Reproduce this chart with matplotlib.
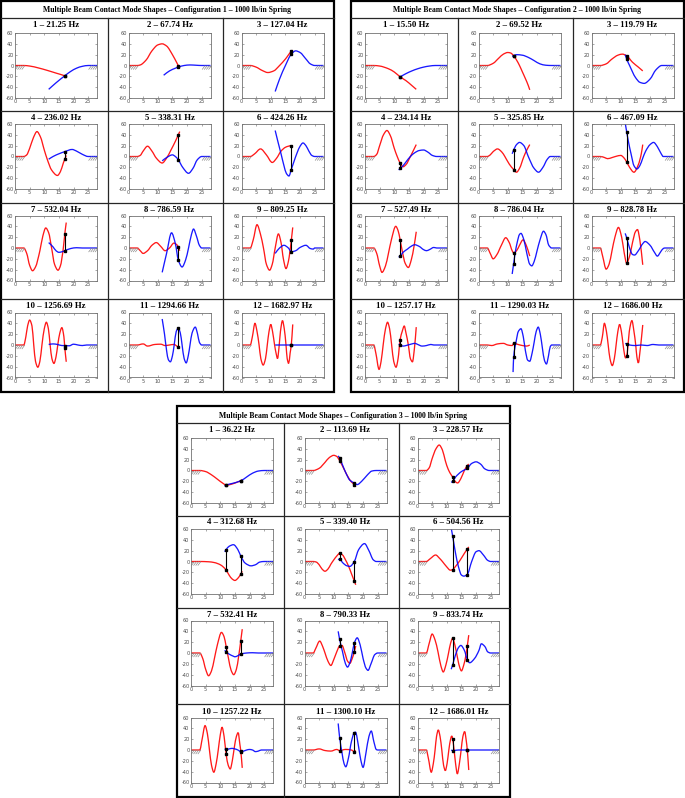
import numpy as np
import matplotlib
matplotlib.use("Agg")
import matplotlib.pyplot as plt
from matplotlib.path import Path
from matplotlib.patches import PathPatch, Rectangle

plt.rcParams['axes.unicode_minus'] = False

# mode frequencies (Hz)
freq_c1 = ["21.25", "67.74", "127.04", "236.02", "338.31", "424.26",
           "532.04", "786.59", "809.25", "1256.69", "1294.66", "1682.97"]
freq_c2 = ["15.50", "69.52", "119.79", "234.14", "325.85", "467.09",
           "527.49", "786.04", "828.78", "1257.17", "1290.03", "1686.00"]
freq_c3 = ["36.22", "113.69", "228.57", "312.68", "339.40", "504.56",
           "532.41", "790.33", "833.74", "1257.22", "1300.10", "1686.01"]

# spring locations along the beams
spring_x_c1 = [17]
spring_x_c2 = [12]
spring_x_c3 = [12, 17]

# clamped supports
support_left = (0, 3)
support_right = (25, 28)

# beam 1 (red) mode shapes, (x, y)
red_c1 = [
    [(0,0),(3,0),(5,-1),(8,-4.5),(11,-9),(14,-14),(17,-19),(17.5,-20)],
    [(0,0),(3,0),(4,1),(6,10),(8,27),(10,38),(11.5,40),(13,36),(15,20),(16.5,5),(17,0),(17.5,-4)],
    [(0,0),(3,0),(5,-3),(7,-9),(9,-13),(11,-10),(13,0),(15,12),(17,26),(17.5,28)],
    [(0,0),(3,0),(4,3),(5,15),(6.3,35),(7.5,46),(8.7,36),(10,12),(11,-5),(12.5,-25),(14.5,-35),(15.5,-28),(16.5,-12),(17,-5),(17.5,2)],
    [(0,0),(3,0),(4,2),(5,10),(6.5,19),(8,10),(9.5,-3),(11.5,-12),(13,-3),(14.5,12),(16,28),(17,40),(17.5,46)],
    [(0,0),(3,0),(4.5,5),(6.5,14),(8.5,3),(10.5,-11),(12,-3),(13.5,10),(15,17),(16,19),(17,20),(17.5,20)],
    [(0,0),(3,0),(4,-10),(5,-32),(6,-42),(7,-35),(8.5,-5),(9.5,22),(10.5,37),(11.5,28),(12.5,0),(13.5,-30),(14.7,-41),(15.5,-33),(16.5,0),(17,26),(17.5,47)],
    [(0,0),(3,0),(4,-5),(5,-10),(6.5,-5),(8,5),(9.5,10),(11,3),(12.5,-5),(14,0),(15.5,9),(16.5,6),(17,2),(17.5,-5)],
    [(0,0),(3,0),(4,15),(5.3,43),(6.5,25),(7.5,0),(8.5,-30),(9.6,-41),(10.5,-30),(11.5,0),(12.6,26),(13.5,10),(14.3,-20),(15.2,-38),(16,-25),(16.5,-8),(17,14),(17.5,38)],
    [(0,0),(3,0),(3.7,15),(4.3,35),(5,46),(5.8,35),(6.4,0),(7,-30),(7.8,-41),(8.5,-30),(9.2,0),(10,30),(10.7,42),(11.4,30),(12,0),(12.6,-25),(13.3,-34),(14,-22),(14.6,0),(15.3,22),(16,32),(16.7,15),(17,-5),(17.5,-31)],
    [(0,0),(3,0),(5,2),(6.5,-2),(9,1),(11,1.5),(12.5,-1),(14,0),(15.5,1),(17,-3),(17.5,-3)],
    [(0,0),(3,0),(3.7,15),(4.6,40),(5.3,25),(6,0),(6.6,-25),(7.4,-37),(8.2,-25),(8.8,0),(9.4,25),(10,38),(10.6,25),(11.3,0),(11.8,-15),(12.3,-25),(12.8,-5),(13.3,25),(14,45),(14.6,30),(15.2,0),(15.6,-25),(16.1,-34),(16.6,-15),(17,0),(17.5,38)],
]
red_c2 = [
    [(0,0),(3,0),(5,-1),(8,-6),(10,-12),(12,-21),(14,-28),(16,-37),(17.5,-44)],
    [(0,0),(3,0),(5,4),(7,14),(8.5,21),(10,24),(11,23),(12,18),(13,10),(14,0),(15,-12),(16,-24),(17,-37),(17.5,-45)],
    [(0,0),(3,0),(5,3),(7,12),(9,19),(10.5,21),(12,18),(14,6),(16,-3),(17.5,-10)],
    [(0,0),(3,0),(4,4),(5,20),(6.3,40),(7.5,48),(8.7,38),(10,15),(11,0),(12,-12),(13,-19),(14,-15),(15.5,0),(17.5,22)],
    [(0,0),(3,0),(4,3),(5,9),(6.5,14),(8,8),(9,0),(10.5,-14),(12,-24),(13,-29),(14,-22),(15.5,0),(16.5,12),(17.5,22)],
    [(0,0),(3,0),(4.5,-2),(5.5,-4),(7,-2),(8.5,0.5),(10,2),(11,-2),(12,-10),(13,-20),(14.5,-29),(16,-15),(17,5),(17.5,22)],
    [(0,0),(3,0),(4,-10),(5,-33),(5.8,-45),(7,-33),(8,-10),(9,15),(10.5,40),(11.3,32),(12,15),(12.7,-5),(13.7,-28),(14.8,-36),(15.8,-22),(16.8,5),(17.5,30)],
    [(0,0),(3,0),(4,-10),(5,-20),(6.3,-12),(7.8,5),(9.3,19),(10.5,10),(11.5,-5),(12,-9),(13,-5),(14,5),(15.2,15),(16.3,5),(17.5,-15)],
    [(0,0),(3,0),(3.8,-15),(5,-39),(6,-30),(7,-5),(8,20),(9.2,38),(10.3,20),(11.2,-10),(12,-28),(13,-15),(14,10),(15,30),(15.7,34),(16.5,15),(17.5,-31)],
    [(0,0),(3,0),(3.7,-15),(4.8,-45),(5.5,-30),(6.2,0),(7,30),(7.7,42),(8.4,30),(9.1,0),(9.8,-30),(10.6,-41),(11.3,-25),(12,10),(12.7,25),(13.4,35),(14,22),(14.8,0),(15.5,-25),(16.2,-31),(16.9,-5),(17.5,33)],
    [(0,0),(3,0),(4.5,-1),(6.5,2),(8.5,3),(10,0),(11.5,-1),(12,3),(13.5,1),(15,-1),(16.5,-2),(17.5,0)],
    [(0,0),(3,0),(3.7,15),(4.4,40),(5.1,25),(5.7,0),(6.3,-25),(7.1,-38),(7.8,-25),(8.4,0),(9,25),(9.6,38),(10.2,25),(10.8,0),(11.2,-15),(11.6,-24),(12,-20),(12.4,-5),(12.9,25),(13.8,45),(14.5,25),(15.1,0),(15.5,-22),(16,-33),(16.6,-10),(17.1,15),(17.5,37)],
]
red_c3 = [
    [(0,0),(3,0),(5,-2),(7,-8),(9,-16),(11,-24),(12,-27),(14,-25),(16,-21),(17,-19),(17.5,-17)],
    [(0,0),(3,0),(5,4),(7,15),(8.5,24),(10,28),(11,26),(12,18),(13,8),(14,-3),(15,-13),(16,-21),(17,-26),(17.5,-30)],
    [(0,0),(3,0),(4,5),(5,22),(6.3,40),(7.4,47),(8.5,38),(9.5,18),(10.5,2),(11.5,-8),(12,-12),(12.8,-20),(13.7,-23),(14.8,-15),(16,0),(17,9),(17.5,12)],
    [(0,0),(3,0),(6,-0.5),(8,-2),(10,-6),(11,-10),(12,-16),(13,-25),(14,-32),(15,-35),(16,-31),(17,-23),(17.5,-18)],
    [(0,0),(3,0),(4,-1),(5,-6),(6,-14),(7,-18),(8,-14),(9,-5),(10,3),(11,10),(12,15),(13,12),(14,3),(15,-8),(16,-22),(17,-36),(17.5,-43)],
    [(0,0),(3,0),(4.3,5),(6.2,12),(7.5,6),(8.5,0),(10,-10),(11.2,-16),(12,-15),(13,-9),(14.5,2),(16,15),(17,23),(17.5,27)],
    [(0,0),(3,0),(4,-10),(5,-30),(6,-42),(7,-33),(8,-10),(9,15),(10.4,38),(11.3,30),(12,12),(12.8,-10),(13.7,-32),(14.6,-40),(15.5,-30),(16.3,-5),(17,23),(17.5,44)],
    [(0,0),(3,0),(3.8,8),(5.2,22),(6.2,12),(7,0),(8,-15),(9,-23),(10,-12),(11,2),(12,13),(12.8,14),(13.8,0),(14.7,-15),(15.5,-19),(16.3,-10),(17,2),(17.5,13)],
    [(0,0),(3,0),(4,18),(5,35),(6,24),(7,2),(8,-24),(8.8,-35),(9.7,-22),(10.6,0),(11.3,18),(12,27),(12.8,14),(13.7,-10),(14.5,-28),(15,-33),(15.8,-22),(16.5,-5),(17,13),(17.5,33)],
    [(0,0),(3,0),(3.8,20),(4.8,45),(5.6,30),(6.3,0),(7,-28),(7.8,-41),(8.6,-25),(9.3,0),(10,28),(10.6,42),(11.3,25),(12,-8),(12.7,-28),(13.4,-35),(14.1,-20),(14.8,5),(15.5,25),(16.1,32),(16.7,10),(17,-2),(17.5,-33)],
    [(0,0),(3,0),(5,2),(7,-1),(9,-2),(11,1),(12,-1),(14,1),(16,0),(17,-3),(17.5,-1)],
    [(0,0),(3,0),(3.7,-15),(4.7,-41),(5.4,-25),(6,0),(6.5,25),(7.1,37),(7.7,25),(8.3,0),(8.9,-28),(9.5,-38),(10.1,-25),(10.7,0),(11.3,20),(11.7,26),(12,20),(12.5,0),(13,-25),(13.6,-44),(14.3,-25),(14.9,0),(15.5,25),(16.1,34),(16.7,15),(17,0),(17.5,-37)],
]

# beam 2 (blue) mode shapes
blue_c1 = [
    [(11.5,-44),(14,-32),(17,-19),(19,-11),(21,-5),(23,-1.5),(25,0),(28,0)],
    [(12,-18),(14,-10),(16,-5),(17,-3),(19,0),(21,1),(23,0.5),(25,0),(28,0)],
    [(11.5,-48),(13,-25),(15,0),(17,21),(18.5,27),(20,24),(22,12),(23.5,3),(25,0),(28,0)],
    [(11.5,-5),(13,0),(15,5),(17,9),(19.5,13),(21,10),(23,4),(25,0),(28,0)],
    [(11.5,-8),(13,-2),(15,3),(16,0),(17,-6),(18.5,-20),(20.5,-31),(22,-22),(23.5,-6),(25,0),(28,0)],
    [(11.5,48),(12.5,26),(13.5,5),(14.5,-17),(15.3,-31),(16.2,-36),(17,-24),(18,-8),(19,7),(20,19),(21,25),(22,20),(23,10),(24,2),(25,0),(28,0)],
    [(11.5,10),(13,2),(14,-5),(15,-8),(16,-7),(17,-5),(19,-1),(21,0.5),(23,0),(25,0),(28,0)],
    [(11.5,-45),(13,-10),(14.7,28),(16,8),(17,-22),(18.3,-35),(19.5,-22),(20.5,0),(21.5,25),(22.2,35),(23.2,22),(24.2,5),(25,0),(28,0)],
    [(11.5,-10),(13,0),(14.5,5),(16,0),(17,-7),(18.5,-5),(20,1),(22,5),(23.5,-1),(24.5,-2),(25,0),(28,0)],
    [(11.5,1),(13,2),(14.5,1),(16,-1),(17,-1),(18.5,-1.5),(20,1.5),(21.5,0),(23,-1),(24.5,0),(28,0)],
    [(11.5,48),(12.3,20),(13,-10),(13.6,-27),(14.3,-31),(15,-20),(15.6,0),(16.3,25),(17,31),(17.7,22),(18.3,0),(19,-25),(19.7,-33),(20.4,-20),(21,0),(21.7,22),(22.8,33),(23.6,20),(24.2,5),(25,0),(28,0)],
    [(11.5,0),(17,0),(28,0)],
]
blue_c2 = [
    [(12,-21),(14,-15),(16,-10),(18,-6),(20,-3),(22,-1),(24,0),(28,0)],
    [(11.5,17),(12,18),(13,20),(15,19),(17,15),(19,9),(21,3),(23,0.5),(25,0),(28,0)],
    [(11.5,20),(12,12),(13,0),(15,-22),(16.5,-31),(18,-33),(20,-25),(22,-8),(24,0),(28,0)],
    [(11.5,-25),(12,-22),(13,-17),(14,-10),(15.5,0),(17,7),(18.5,11),(20,12),(21.5,8),(23,2),(24.5,0),(28,0)],
    [(11.5,5),(12,12),(13,22),(14,26),(15.5,20),(17,0),(19,-22),(20.5,-29),(22,-20),(23.5,-5),(24.5,0),(28,0)],
    [(11.5,62),(12,46),(12.7,25),(13.5,5),(14.5,-17),(15.5,-23),(16.5,-17),(17.5,-3),(18.5,10),(20,22),(21.2,26),(22.5,18),(23.8,5),(24.5,0),(28,0)],
    [(11.5,-17),(12,-15),(13,-8),(14.5,-2),(16,4),(17,6),(18.5,3),(20,-3),(21,-5),(22,-3),(23.5,1),(24.5,0),(28,0)],
    [(11.5,-48),(12,-29),(12.5,-10),(13.2,10),(14,25),(14.5,27),(15.5,15),(16.5,-10),(17.5,-30),(18.2,-33),(19,-25),(20,-5),(21,15),(22.2,31),(23,25),(24,5),(25,0),(28,0)],
    [(11.5,27),(12,19),(13,0),(14,-12),(14.7,-13),(16,-5),(17.5,8),(18.3,12),(20,5),(21.5,-8),(22.5,-15),(23.5,-8),(24.5,-1),(25,0),(28,0)],
    [(11.5,2),(12,0),(13,-2),(14,-1),(16,2),(17,3),(18,1),(19.5,-2),(21,-1),(22.5,1),(23.5,0),(28,0)],
    [(11.8,-50),(12,-23),(12.8,5),(13.6,25),(14.5,30),(15.3,15),(16,-10),(16.8,-28),(17.5,-30),(18.3,-15),(19,5),(19.7,25),(20.4,33),(21.1,20),(21.8,-5),(22.5,-28),(23.2,-35),(23.9,-20),(24.5,-3),(25,0),(28,0)],
    [(11.5,3),(12,2),(13,0),(15,-1),(17,0),(19,-1),(21,1),(23,0),(25,0),(28,0)],
]
blue_c3 = [
    [(11.5,-29),(12,-27),(14,-24),(17,-19),(19,-12),(21,-5),(23,-1),(25,0),(28,0)],
    [(11.5,27),(12,23),(13,10),(14,-3),(15.5,-18),(17,-23),(18,-26),(19.5,-20),(21.5,-8),(23,-1),(24.5,0),(28,0)],
    [(11.5,-22),(12,-20),(13,-12),(15,-2),(17,4),(18.5,13),(20,16),(21.5,12),(23,3),(24.5,0),(28,0)],
    [(11.5,18),(12,22),(13,28),(14.5,31),(16,22),(17,10),(18.5,-3),(20.5,-8),(22,-6),(23.5,-1),(25,0),(28,0)],
    [(11.5,3),(12,5),(13,-2),(14.5,-8),(15.5,-9),(17,0),(18.5,22),(20.5,33),(22,20),(23.5,3),(24.5,0),(28,0)],
    [(11.5,62),(12,47),(13,15),(14,-10),(15,-25),(15.8,-27),(17,-24),(18.5,0),(20,18),(21,20),(22.5,12),(24,2),(25,0),(28,0)],
    [(11.5,5),(12,2),(13,-2),(14.5,-6),(15,-7),(16,-5),(17,-2),(19,0),(21,0.5),(23,0),(25,0),(28,0)],
    [(11.5,40),(12,25),(13,2),(14,-20),(14.7,-26),(15.5,-18),(16.3,0),(17,18),(18,28),(19,15),(20,-10),(21,-28),(21.7,-32),(22.7,-20),(24,-3),(25,0),(28,0)],
    [(11.5,-30),(12,-22),(13,-3),(14,10),(14.8,14),(16,5),(17,-12),(17.8,-18),(19.5,-10),(21,5),(21.8,17),(23,12),(24,2),(25,0),(28,0)],
    [(11.5,2),(12,1),(13,2),(14,3),(15,2),(16,0),(17,-3),(18,-2),(19,0),(20,1),(21,0),(22,-3),(23,-2),(24,0),(25,0),(28,0)],
    [(11.5,49),(12,23),(12.8,-5),(13.5,-25),(14.1,-31),(15,-15),(16,15),(17,32),(17.4,33),(18.5,5),(19.2,-18),(20,-32),(21,-5),(22,25),(22.8,35),(23.7,15),(24.5,1),(25,0),(28,0)],
    [(11.5,0),(12,-1),(14,0),(17,0),(28,0)],
]

# spring end deflections (red end, blue end) at each spring location
spring_c1 = [[(-19,-19)],[(0,-3)],[(26,21)],[(-5,9)],[(40,-6)],[(20,-24)],
             [(26,-5)],[(2,-22)],[(14,-7)],[(-5,-1)],[(-3,31)],[(0,0)]]
spring_c2 = [[(-21,-21)],[(18,18)],[(18,12)],[(-12,-22)],[(-24,12)],[(-10,46)],
             [(15,-15)],[(-9,-29)],[(-28,19)],[(10,0)],[(3,-23)],[(-20,2)]]
spring_c3 = [[(-27,-27),(-19,-19)],[(18,23),(-26,-23)],[(-12,-20),(9,4)],
             [(-16,22),(-23,10)],[(15,5),(-36,0)],[(-15,47),(23,-24)],
             [(12,2),(23,-2)],[(13,25),(2,18)],[(27,-22),(13,-12)],
             [(-8,1),(-2,-3)],[(-1,23),(-3,32)],[(20,-1),(0,0)]]

configs = [
    (1, freq_c1, red_c1, blue_c1, spring_x_c1, spring_c1),
    (2, freq_c2, red_c2, blue_c2, spring_x_c2, spring_c2),
    (3, freq_c3, red_c3, blue_c3, spring_x_c3, spring_c3),
]


def draw_shape(ax, pts, color):
    # smooth monotone cubic path through the read points
    x = np.array([p[0] for p in pts], float)
    y = np.array([p[1] for p in pts], float)
    h = np.diff(x)
    s = np.diff(y) / h
    m = np.zeros(len(x))
    for i in range(1, len(x) - 1):
        if s[i-1] * s[i] > 0:
            w1 = 2*h[i] + h[i-1]
            w2 = h[i] + 2*h[i-1]
            m[i] = (w1 + w2) / (w1/s[i-1] + w2/s[i])
    m[0] = s[0]
    m[-1] = s[-1]
    verts = [(x[0], y[0])]
    codes = [Path.MOVETO]
    for i in range(len(h)):
        d = h[i] / 3
        verts += [(x[i]+d, y[i]+m[i]*d), (x[i+1]-d, y[i+1]-m[i+1]*d), (x[i+1], y[i+1])]
        codes += [Path.CURVE4] * 3
    ax.add_patch(PathPatch(Path(verts, codes), fill=False, ec=color, lw=0.95, alpha=0.9))


def draw_support(ax, span):
    for xs in np.linspace(span[0] + 0.2, span[1] - 0.6, 4):
        ax.plot([xs, xs + 0.9], [-7, -0.5], color='0.55', lw=0.5)


W, H = 685, 798
fig = plt.figure(figsize=(6.85, 7.98), dpi=100)
bg = fig.add_axes([0, 0, 1, 1])
bg.set_xlim(0, W)
bg.set_ylim(H, 0)
bg.axis('off')

panel_xy = [(1, 1), (351, 1), (177, 406)]
PW, PH = 333, 391
col_sep = [107, 222]
row_sep = [17, 110, 202, 298]
ax_left = [14, 127.5, 240.5]
ax_top = [32, 123, 214.5, 311.5]
title_y = [24, 116.5, 209, 305.5]
AW, AH = 82, 65

for (ox, oy), (num, freqs, reds, blues, sx, springs) in zip(panel_xy, configs):
    bg.add_patch(Rectangle((ox, oy), PW, PH, fill=False, lw=1.6, ec='k'))
    for ry in row_sep:
        bg.plot([ox, ox + PW], [oy + ry, oy + ry], color='0.15', lw=0.9)
    for cx in col_sep:
        bg.plot([ox + cx, ox + cx], [oy + row_sep[0], oy + PH], color='0.15', lw=0.9)
    bg.text(ox + PW/2, oy + 9.5,
            f"Multiple Beam Contact Mode Shapes \u2013 Configuration {num} \u2013 1000 lb/in Spring",
            ha='center', va='center', fontsize=5.6, family='Liberation Serif', weight='bold')
    for k in range(12):
        r, c = divmod(k, 3)
        left = ox + ax_left[c]
        top = oy + ax_top[r]
        bg.text(left + AW/2, oy + title_y[r], f"{k+1} \u2013 {freqs[k]} Hz",
                ha='center', va='center', fontsize=6.3, family='Liberation Serif', weight='bold')
        ax = fig.add_axes([left / W, 1 - (top + AH) / H, AW / W, AH / H])
        draw_support(ax, support_left)
        draw_support(ax, support_right)
        draw_shape(ax, reds[k], 'red')
        draw_shape(ax, blues[k], 'blue')
        for xk, (yr, yb) in zip(sx, springs[k]):
            ax.plot([xk, xk], [yr, yb], color='k', lw=0.8, marker='s', ms=1.6)
        ax.set_xlim(0, 28)
        ax.set_ylim(-60, 60)
        ax.set_xticks([0, 5, 10, 15, 20, 25])
        ax.set_yticks([-60, -40, -20, 0, 20, 40, 60])
        ax.tick_params(direction='in', length=1.5, width=0.4, labelsize=3.6,
                       labelcolor='0.3', pad=1, top=True, right=True, colors='0.4')
        for sp in ax.spines.values():
            sp.set_color('0.45')
            sp.set_linewidth(0.6)

fig.savefig('out.png', dpi=100, facecolor='white')
